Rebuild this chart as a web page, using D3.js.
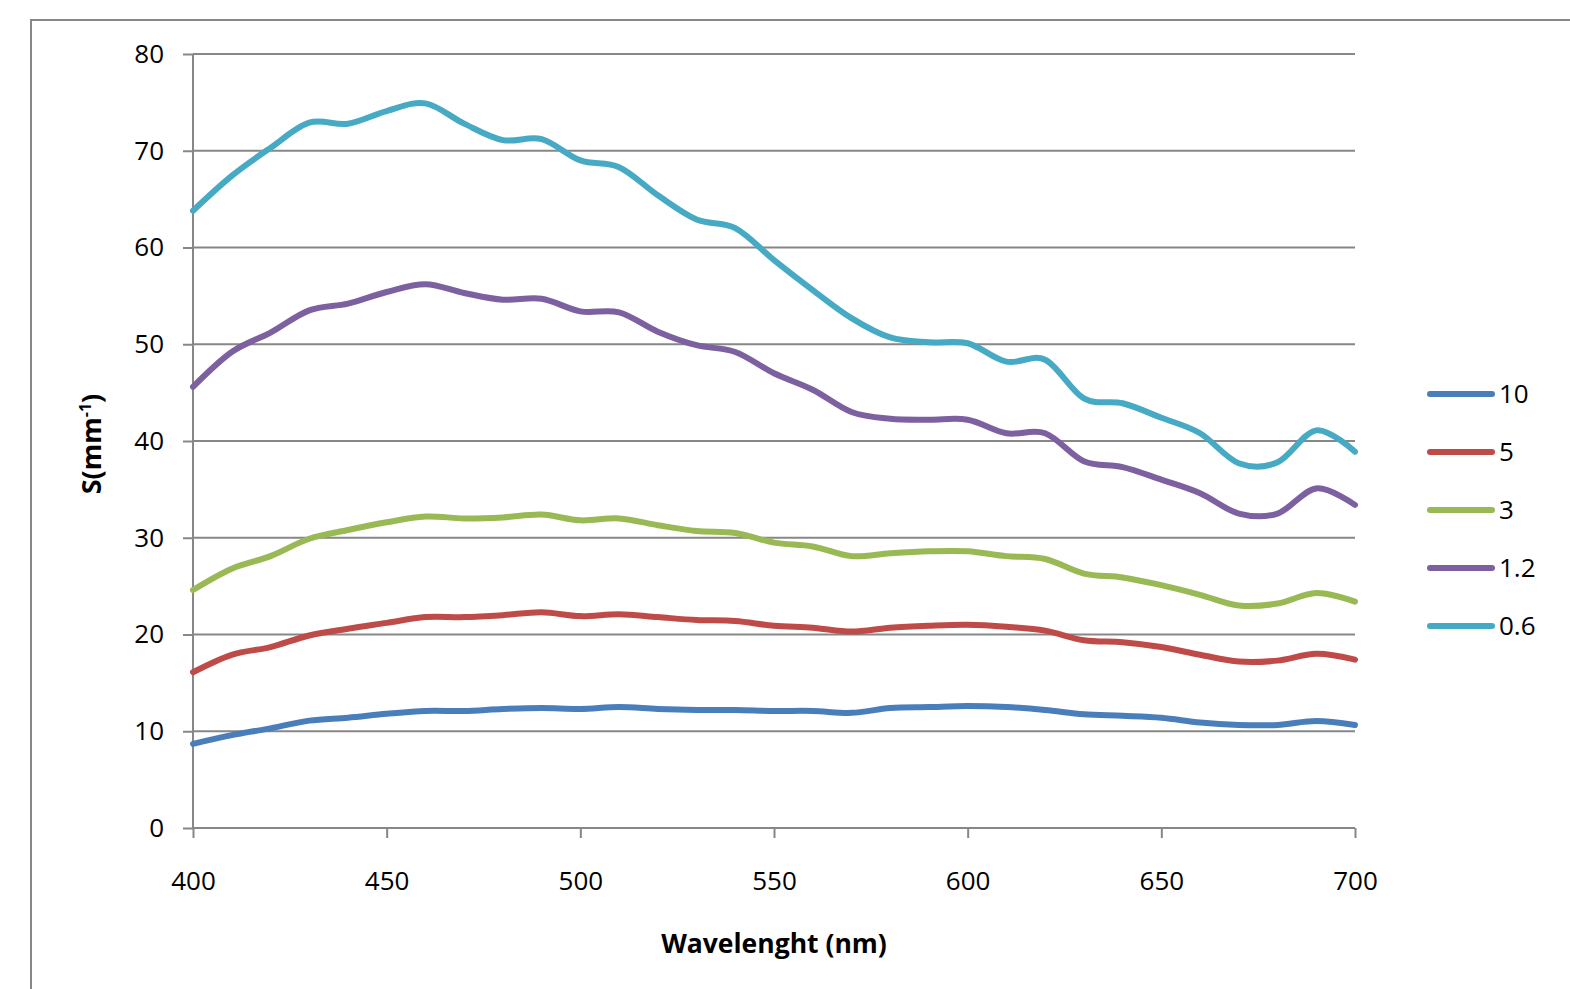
<!DOCTYPE html>
<html>
<head>
<meta charset="utf-8">
<script src="https://cdn.jsdelivr.net/npm/d3@7"></script>
<style>
  html,body{margin:0;padding:0;background:#fff;}
  svg{display:block;}
</style>
</head>
<body>
<div id="chart"></div>
<script>
// wavelength samples (nm)
const wavelengths=[400,410,420,430,440,450,460,470,480,490,500,510,520,530,540,550,560,570,580,590,600,610,620,630,640,650,660,670,680,690,700];

const s10=[8.7,9.6,10.3,11.1,11.4,11.8,12.1,12.1,12.3,12.4,12.3,12.5,12.3,12.2,12.2,12.1,12.1,11.9,12.4,12.5,12.6,12.5,12.2,11.75,11.6,11.4,10.9,10.65,10.65,11.05,10.65];
const s5=[16.1,17.9,18.7,19.9,20.6,21.2,21.8,21.8,22.0,22.3,21.9,22.1,21.8,21.5,21.4,20.9,20.7,20.3,20.7,20.9,21.0,20.8,20.4,19.4,19.2,18.7,17.9,17.2,17.3,18.0,17.4];
const s3=[24.6,26.8,28.1,29.9,30.8,31.6,32.2,32.0,32.1,32.4,31.8,32.0,31.3,30.7,30.5,29.5,29.1,28.1,28.4,28.6,28.6,28.1,27.8,26.3,25.9,25.1,24.1,23.0,23.2,24.3,23.4];
const s12=[45.6,49.2,51.2,53.5,54.2,55.4,56.2,55.3,54.6,54.7,53.4,53.3,51.3,49.9,49.2,47.0,45.3,43.0,42.3,42.2,42.2,40.8,40.8,37.9,37.3,36.0,34.6,32.5,32.5,35.1,33.4];
const s06=[63.8,67.4,70.3,72.9,72.8,74.1,74.9,72.8,71.1,71.2,69.0,68.3,65.4,62.9,62.0,58.7,55.6,52.7,50.7,50.2,50.1,48.2,48.4,44.4,43.9,42.4,40.8,37.7,37.8,41.1,38.9];

const seriesNames=['10','5','3','1.2','0.6'];
const seriesValues=[s10,s5,s3,s12,s06];
const seriesColors=['#4a7ebb','#be4b48','#98b954','#7d60a0','#46aac5'];

const xTicks=[400,450,500,550,600,650,700];
const yTicks=[0,10,20,30,40,50,60,70,80];

const W=1570,H=989;
const m={top:54,right:215,bottom:161,left:193};
const iw=W-m.left-m.right, ih=H-m.top-m.bottom;
const FONT='"Open Sans","Liberation Sans",sans-serif';
const GRID='#878787';

const svg=d3.select('#chart').append('svg').attr('width',W).attr('height',H);

// outer chart frame (only top/left edges visible)
svg.append('path').attr('d','M31,989 V20 H1570')
  .attr('fill','none').attr('stroke',GRID).attr('stroke-width',2);

const g=svg.append('g').attr('transform',`translate(${m.left},${m.top})`);

const x=d3.scaleLinear().domain([400,700]).range([0,iw]);
const y=d3.scaleLinear().domain([0,80]).range([ih,0]);

// gridlines
g.append('g').selectAll('line').data(yTicks.filter(d=>d>0)).enter().append('line')
  .attr('x1',0).attr('x2',iw).attr('y1',d=>y(d)).attr('y2',d=>y(d))
  .attr('stroke',GRID).attr('stroke-width',2);

// axes
const ax=g.append('g').attr('transform',`translate(0,${ih})`)
  .call(d3.axisBottom(x).tickValues(xTicks).tickSize(10).tickPadding(34));
const ay=g.append('g')
  .call(d3.axisLeft(y).tickValues(yTicks).tickSize(10).tickPadding(19));
g.selectAll('.domain').attr('stroke',GRID).attr('stroke-width',2);
g.selectAll('.tick line').attr('stroke',GRID).attr('stroke-width',2);
g.selectAll('.tick text').attr('fill','#000').style('font-family',FONT).style('font-size','26px');
ay.select('.domain').attr('d',`M0,${ih}V0`);
ax.select('.domain').attr('d',`M0,0H${iw}`);
ax.selectAll('.tick text').attr('dy','0.71em');

// lines
const line=d3.line().x((d,i)=>x(wavelengths[i])).y(d=>y(d)).curve(d3.curveCatmullRom.alpha(0));
g.append('g').selectAll('path').data(seriesValues).enter().append('path')
  .attr('d',line).attr('fill','none')
  .attr('stroke',(d,i)=>seriesColors[i]).attr('stroke-width',6)
  .attr('stroke-linejoin','round').attr('stroke-linecap','round');

// axis titles
svg.append('text').attr('x',m.left+iw/2).attr('y',953)
  .attr('text-anchor','middle').style('font-family',FONT).style('font-weight','bold')
  .style('font-size','26.5px').text('Wavelenght (nm)');

const yt=svg.append('text').attr('transform','translate(101,444) rotate(-90)')
  .attr('text-anchor','middle').style('font-family',FONT).style('font-weight','bold')
  .style('font-size','27px');
yt.append('tspan').text('S(mm');
yt.append('tspan').attr('dy','-10').style('font-size','16px').text('-1');
yt.append('tspan').attr('dy','10').text(')');

// legend
const lg=svg.append('g').attr('transform','translate(1430,394)');
const items=lg.selectAll('g').data(seriesNames).enter().append('g')
  .attr('transform',(d,i)=>`translate(0,${i*58})`);
items.append('line').attr('x1',0).attr('x2',62).attr('y1',0).attr('y2',0)
  .attr('stroke',(d,i)=>seriesColors[i]).attr('stroke-width',6).attr('stroke-linecap','round');
items.append('text').attr('x',69).attr('y',0).attr('dy','0.36em')
  .style('font-family',FONT).style('font-size','26px').text(d=>d);
</script>
</body>
</html>
